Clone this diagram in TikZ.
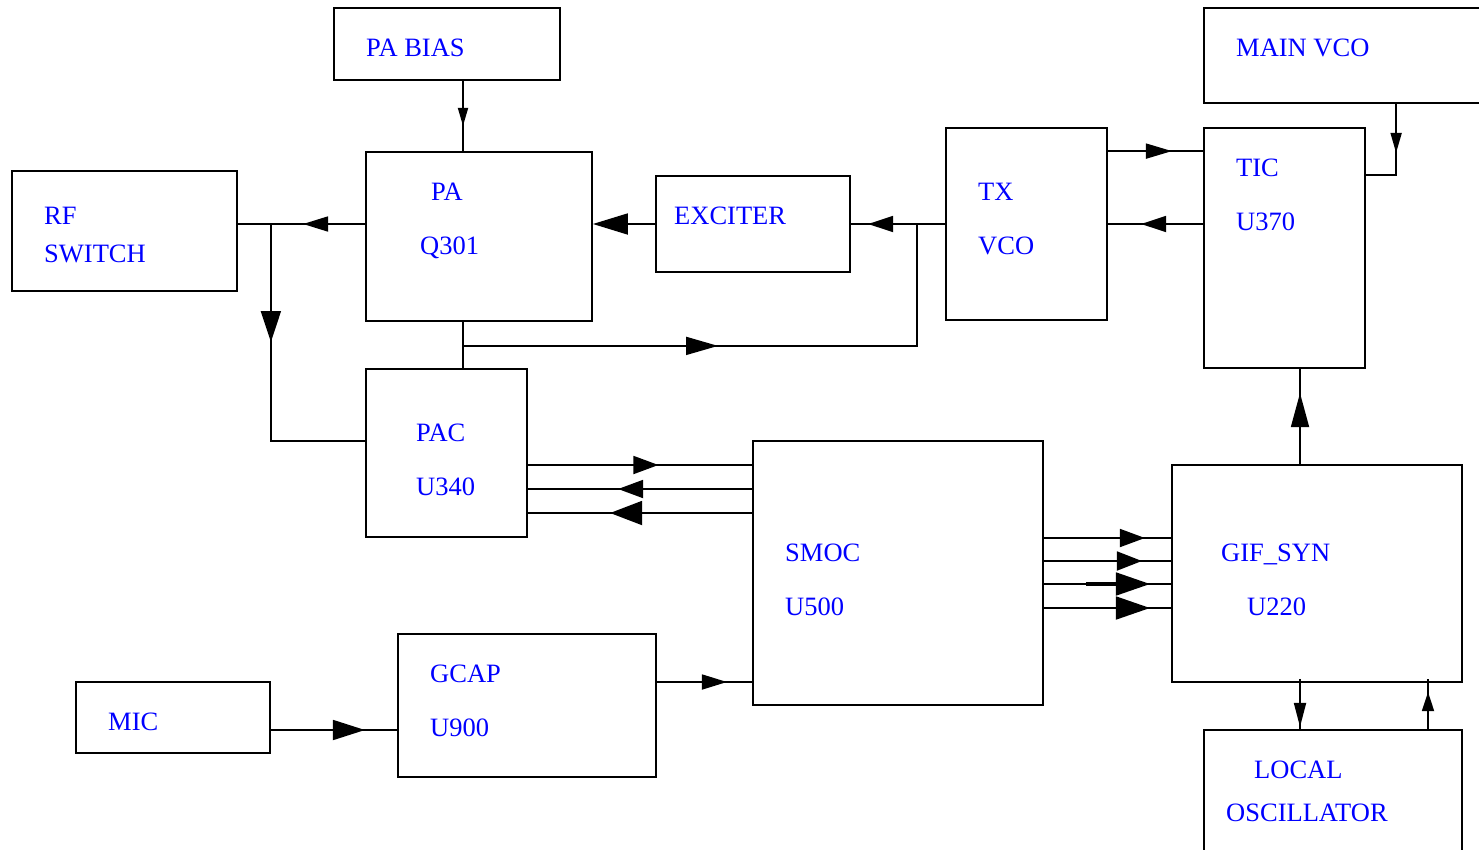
\documentclass[tikz,border=0pt]{standalone}
\usepackage{fontspec}
\setmainfont{Liberation Serif}
\usetikzlibrary{arrows.meta,calc,decorations.markings}
\tikzset{
  box/.style={draw, line width=1.8pt, inner sep=0pt, rectangle},
  lbl/.style={text=blue, inner sep=0pt, anchor=base west, font=\fontsize{26.5}{30}\selectfont},
  wire/.style={line width=1.8pt},
  ah/.style n args={3}{postaction={decorate}, decoration={markings, mark=at position #1pt with {\arrow{Triangle[length=#2pt,width=#3pt]}}}},
}
\begin{document}
\begin{tikzpicture}[x=1pt,y=-1pt]
\useasboundingbox (0,0) rectangle (1479,849);
\clip (0,0) rectangle (1479,849);
\fill[white] (0,0) rectangle (1479,849);
% boxes
\node[box,minimum width=226pt,minimum height=72pt] (pab) at (447,44) {};
\node[box,minimum width=300pt,minimum height=95pt] (mvco) at (1354,55.5) {};
\node[box,minimum width=225pt,minimum height=120pt] (rfs) at (124.5,231) {};
\node[box,minimum width=226pt,minimum height=169pt] (pa) at (479,236.5) {};
\node[box,minimum width=194pt,minimum height=96pt] (exc) at (753,224) {};
\node[box,minimum width=161pt,minimum height=192pt] (txv) at (1026.5,224) {};
\node[box,minimum width=161pt,minimum height=240pt] (tic) at (1284.5,248) {};
\node[box,minimum width=161pt,minimum height=168pt] (pac) at (446.5,453) {};
\node[box,minimum width=290pt,minimum height=264pt] (smoc) at (898,573) {};
\node[box,minimum width=290pt,minimum height=217pt] (gif) at (1317,573.5) {};
\node[box,minimum width=194pt,minimum height=71pt] (mic) at (173,717.5) {};
\node[box,minimum width=258pt,minimum height=143pt] (gcap) at (527,705.5) {};
\node[box,minimum width=258pt,minimum height=150pt] (lo) at (1333,805) {};
% labels
\node[lbl] (t1) at (366,56) {PA BIAS};
\node[lbl] (t2) at (1236,56) {MAIN VCO};
\node[lbl] (t3) at (44,224) {RF};
\node[lbl] (t4) at (44,262) {SWITCH};
\node[lbl] (t5) at (431,200) {PA};
\node[lbl] (t6) at (420,254) {Q301};
\node[lbl] (t7) at (674,224) {EXCITER};
\node[lbl] (t8) at (978,200) {TX};
\node[lbl] (t9) at (978,254) {VCO};
\node[lbl] (t10) at (1236,176) {TIC};
\node[lbl] (t11) at (1236,230) {U370};
\node[lbl] (t12) at (416,441) {PAC};
\node[lbl] (t13) at (416,495) {U340};
\node[lbl] (t14) at (785,561) {SMOC};
\node[lbl] (t15) at (785,615) {U500};
\node[lbl] (t16) at (1221,561) {GIF\_SYN};
\node[lbl] (t17) at (1247,615) {U220};
\node[lbl] (t18) at (108,730) {MIC};
\node[lbl] (t19) at (430,682) {GCAP};
\node[lbl] (t20) at (430,736) {U900};
\node[lbl] (t21) at (1254,778) {LOCAL};
\node[lbl] (t22) at (1226,821) {OSCILLATOR};
% connectors
\draw[wire, ah={45}{18}{10}] ($(pab.south)+(16,0)$) -- ($(pa.north)+(-16,0)$);
\draw[wire, ah={62}{25}{15}] (pa.west |- exc.west) -- (rfs.east |- exc.west);
\coordinate (j2) at ($(rfs.east |- exc.west)+(33,0)$);
\draw[wire, ah={118}{31}{20}] (j2) |- ($(pac.west)+(0,-12)$);
\draw[wire, -{Triangle[length=35pt,width=21pt]}] (exc.west) -- (pa.east |- exc.west);
\draw[wire, ah={77}{25}{16}] (txv.west) -- (exc.east);
\coordinate (j3) at ($(exc.east)+(66,0)$);
\draw[wire] ($(pa.south)+(-16,0)$) -- ($(pac.north)+(16.5,2)$);
\coordinate (j4) at ($(pa.south)+(-16,24)$);
\draw[wire, ah={255}{32}{18}] (j4) -| (j3);
\draw[wire, ah={64}{26}{15}] ($(txv.north east)+(0,24)$) -- ($(tic.north west)+(0,24)$);
\draw[wire, ah={62}{25}{16}] (tic.west |- txv.east) -- (txv.east);
\draw[wire, ah={49}{20}{11}] ($(mvco.south west)+(193,0)$) |- ($(tic.north east)+(0,48)$);
\draw[wire, ah={71}{34}{18}] ($(gif.north)+(-17,0)$) -- ($(tic.south)+(15.5,0)$);
\draw[wire, ah={130.5}{25}{18}] ($(pac.east)+(0,12)$) -- ($(pac.east -| smoc.west)+(0,12)$);
\draw[wire, ah={134}{25}{18}] ($(pac.east -| smoc.west)+(0,36)$) -- ($(pac.east)+(0,36)$);
\draw[wire, ah={142}{32}{24}] ($(pac.east -| smoc.west)+(0,60)$) -- ($(pac.east)+(0,60)$);
\draw[wire, ah={101}{25}{18}] ($(smoc.east)+(0,-35)$) -- ($(smoc.east -| gif.west)+(0,-35)$);
\draw[wire, ah={98}{25}{19}] ($(smoc.east)+(0,-12)$) -- ($(smoc.east -| gif.west)+(0,-12)$);
\draw[wire, ah={106}{34}{23}] ($(smoc.east)+(0,11)$) -- ($(smoc.east -| gif.west)+(0,11)$);
\draw[line width=3.5pt] ($(smoc.east)+(42,11)$) -- ($(smoc.east)+(80,11)$);
\draw[wire, ah={106}{34}{23}] ($(smoc.east)+(0,35)$) -- ($(smoc.east -| gif.west)+(0,35)$);
\draw[wire, ah={70}{25}{15}] ($(gcap.east)+(0,-23.5)$) -- ($(gcap.east -| smoc.west)+(0,-23.5)$);
\draw[wire, ah={94}{32}{20}] ($(mic.east)+(0,12.5)$) -- ($(mic.east -| gcap.west)+(0,12.5)$);
\draw[wire, ah={48}{24}{12}] ($(gif.south)+(-17,-4)$) -- ($(lo.north)+(-33,0)$);
\draw[wire, ah={37}{19}{12}] ($(lo.north)+(95,0)$) -- ($(gif.south)+(111,-4)$);
\end{tikzpicture}
\end{document}
